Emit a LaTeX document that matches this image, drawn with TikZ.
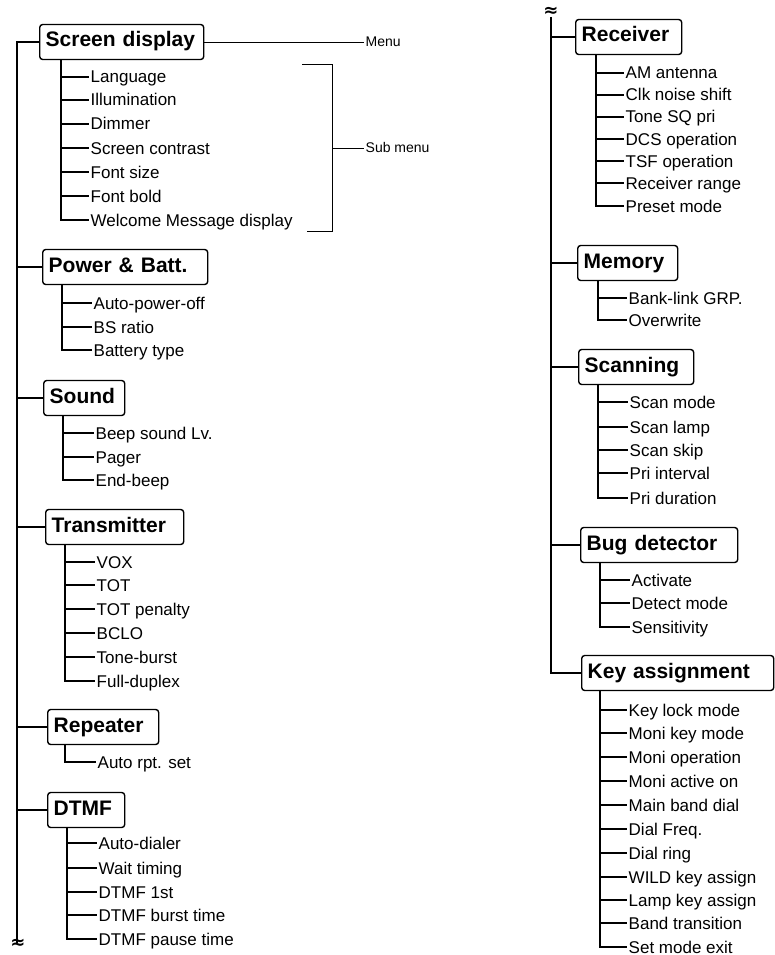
\documentclass[tikz,border=0pt]{standalone}
\usepackage{fontspec}
\setmainfont{Liberation Sans}
\newfontfamily\dejavu{DejaVu Sans}
\begin{document}
\begin{tikzpicture}[x=1pt,y=-1pt,
  menubox/.style={draw, line width=1.4pt, rounded corners=3pt, anchor=west, minimum height=35pt,
    inner xsep=6pt, inner ysep=0pt, align=left, font=\fontsize{21}{24}\selectfont\bfseries,
    text height=15pt, text depth=5pt},
  item/.style={anchor=west, inner xsep=1.5pt, inner ysep=0pt, font=\fontsize{17}{20}\selectfont,
    text height=12pt, text depth=0pt},
  note/.style={anchor=west, inner xsep=1.5pt, inner ysep=0pt, font=\fontsize{14}{16}\selectfont,
    text height=10pt, text depth=0pt},
  wave/.style={inner sep=0pt, font=\dejavu\bfseries\fontsize{18}{18}\selectfont},
  spine/.style={line width=1.9pt},
  tree/.style={line width=1.7pt},
  thinline/.style={line width=0.9pt},
]
\useasboundingbox (0,0) rectangle (775,955);

% ---------------- left column ----------------
\coordinate (lbot) at (17,943);
\node[wave] (lwave) at (18,944) {≈};

% Screen display
\node[menubox, text width=152pt] (sd) at (39,42) {Screen display};
\coordinate (sdx) at (61,0);
\foreach \t/\y [count=\i] in {Language/77, Illumination/100, Dimmer/124, Screen contrast/148,
  Font size/172, Font bold/196, Welcome Message display/220}{
  \node[item] (sd\i) at (89,\y) {\t};
  \draw[tree] (sd\i.west -| sdx) -- (sd\i.west);
}
\draw[tree] (sd.south -| sdx) |- (sd7.west);
\draw[spine] (sd.west) -| (lbot);

% Menu / Sub menu annotations
\node[note] (menu) at (364,42) {Menu};
\draw[thinline] (sd.east) -- (menu.west);
\coordinate (b1) at (302,64);
\coordinate (b2) at (332,231);
\coordinate (b3) at (307,231);
\coordinate (bmid) at (332,148);
\draw[thinline] (b1) -| (b2) -- (b3);
\node[note] (submenu) at (364,148) {Sub menu};
\draw[thinline] (bmid) -- (submenu.west);

% Power & Batt.
\node[menubox, text width=153pt] (pb) at (42,267) {Power \& Batt.};
\coordinate (pbx) at (62,0);
\foreach \t/\y [count=\i] in {Auto-power-off/303, BS ratio/327, Battery type/350}{
  \node[item] (pb\i) at (92,\y) {\t};
  \draw[tree] (pb\i.west -| pbx) -- (pb\i.west);
}
\draw[tree] (pb.south -| pbx) |- (pb3.west);
\draw[spine] (pb.west) -- (pb.west -| lbot);

% Sound
\node[menubox, text width=69pt] (so) at (43,398) {Sound};
\coordinate (sox) at (63,0);
\foreach \t/\y [count=\i] in {Beep sound Lv./433, Pager/457, End-beep/480}{
  \node[item] (so\i) at (94,\y) {\t};
  \draw[tree] (so\i.west -| sox) -- (so\i.west);
}
\draw[tree] (so.south -| sox) |- (so3.west);
\draw[spine] (so.west) -- (so.west -| lbot);

% Transmitter
\node[menubox, text width=126pt] (tx) at (45,527) {Transmitter};
\coordinate (txx) at (65,0);
\foreach \t/\y [count=\i] in {VOX/562, TOT/585, TOT penalty/609, BCLO/633, Tone-burst/657, Full-duplex/681}{
  \node[item] (tx\i) at (95,\y) {\t};
  \draw[tree] (tx\i.west -| txx) -- (tx\i.west);
}
\draw[tree] (tx.south -| txx) |- (tx6.west);
\draw[spine] (tx.west) -- (tx.west -| lbot);

% Repeater
\node[menubox, text width=99pt] (rp) at (47,727) {Repeater};
\coordinate (rpx) at (65,0);
\node[item] (rp1) at (96,762) {Auto rpt. set};
\draw[tree] (rp.south -| rpx) |- (rp1.west);
\draw[spine] (rp.west) -- (rp.west -| lbot);

% DTMF
\node[menubox, text width=65pt] (dt) at (47,810) {DTMF};
\coordinate (dtx) at (67,0);
\foreach \t/\y [count=\i] in {Auto-dialer/843, Wait timing/868, DTMF 1st/892, DTMF burst time/915, DTMF pause time/939}{
  \node[item] (dt\i) at (97,\y) {\t};
  \draw[tree] (dt\i.west -| dtx) -- (dt\i.west);
}
\draw[tree] (dt.south -| dtx) |- (dt5.west);
\draw[spine] (dt.west) -- (dt.west -| lbot);

% ---------------- right column ----------------
\coordinate (rtop) at (551,17);
\node[wave] (rwave) at (551,12) {≈};

% Receiver
\node[menubox, text width=94pt] (rc) at (575,37) {Receiver};
\coordinate (rcx) at (596,0);
\foreach \t/\y [count=\i] in {AM antenna/73, Clk noise shift/95, Tone SQ pri/117, DCS operation/139,
  TSF operation/161, Receiver range/183, Preset mode/206}{
  \node[item] (rc\i) at (624,\y) {\t};
  \draw[tree] (rc\i.west -| rcx) -- (rc\i.west);
}
\draw[tree] (rc.south -| rcx) |- (rc7.west);
\draw[spine] (rc.west) -- (rc.west -| rtop);

% Memory
\node[menubox, text width=88pt] (me) at (577,263) {Memory};
\coordinate (mex) at (598,0);
\foreach \t/\y [count=\i] in {Bank-link GRP./298, Overwrite/320}{
  \node[item] (me\i) at (627,\y) {\t};
  \draw[tree] (me\i.west -| mex) -- (me\i.west);
}
\draw[tree] (me.south -| mex) |- (me2.west);
\draw[spine] (me.west) -- (me.west -| rtop);

% Scanning
\node[menubox, text width=103pt] (sc) at (578,367) {Scanning};
\coordinate (scx) at (598,0);
\foreach \t/\y [count=\i] in {Scan mode/402, Scan lamp/427, Scan skip/450, Pri interval/473, Pri duration/498}{
  \node[item] (sc\i) at (628,\y) {\t};
  \draw[tree] (sc\i.west -| scx) -- (sc\i.west);
}
\draw[tree] (sc.south -| scx) |- (sc5.west);
\draw[spine] (sc.west) -- (sc.west -| rtop);

% Bug detector
\node[menubox, text width=145pt] (bd) at (580,545) {Bug detector};
\coordinate (bdx) at (600,0);
\foreach \t/\y [count=\i] in {Activate/580, Detect mode/603, Sensitivity/627}{
  \node[item] (bd\i) at (630,\y) {\t};
  \draw[tree] (bd\i.west -| bdx) -- (bd\i.west);
}
\draw[tree] (bd.south -| bdx) |- (bd3.west);
\draw[spine] (bd.west) -- (bd.west -| rtop);

% Key assignment
\node[menubox, text width=180pt] (ka) at (581,673) {Key assignment};
\coordinate (kax) at (600,0);
\foreach \t/\y [count=\i] in {Key lock mode/710, Moni key mode/733, Moni operation/757, Moni active on/781,
  Main band dial/805, Dial Freq./829, Dial ring/853, WILD key assign/877, Lamp key assign/900,
  Band transition/923, Set mode exit/947}{
  \node[item] (ka\i) at (627,\y) {\t};
  \draw[tree] (ka\i.west -| kax) -- (ka\i.west);
}
\draw[tree] (ka.south -| kax) |- (ka11.west);
\draw[spine] (rtop) |- (ka.west);
\end{tikzpicture}
\end{document}
